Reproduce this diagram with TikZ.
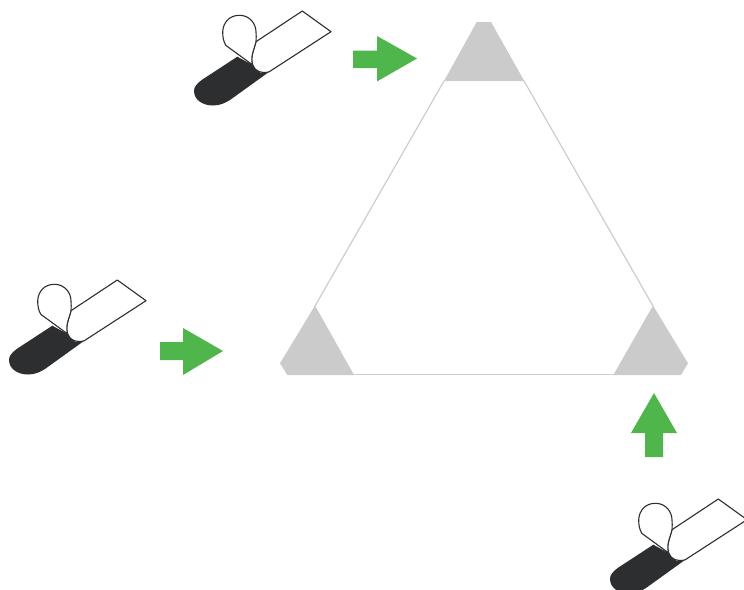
\documentclass[tikz,border=0pt]{standalone}
\usepackage{color}
\definecolor{capgray}{HTML}{CBCBCB}
\definecolor{edgegray}{HTML}{CDCDCD}
\definecolor{arrowgreen}{HTML}{4EB64B}
\definecolor{tapedark}{HTML}{2D2E30}
\tikzset{
    capfill/.style={fill=capgray},
    edgeline/.style={color=edgegray,line width=1.2pt},
    greenarrow/.style={fill=arrowgreen},
    tapeline/.style={color=tapedark,line width=1.1pt},
    pics/tape/.style={code={
        \fill[tapedark] (237.3,56.7) -- (201.7,80) .. controls (196.5,84) and (194,87) .. (194,91)
            .. controls (194,100) and (203,105.5) .. (213,105.5)
            .. controls (220,105.5) and (225,103) .. (230,100) -- (269.3,71.7) -- (260,72.7) -- (252.7,65) -- cycle;
        \draw[tapeline,fill=white] (256,41.7) -- (302.3,11) -- (331,31.7) -- (269.3,71.7)
            .. controls (262,74) and (255,71.5) .. (252.7,65)
            .. controls (250,57) and (254,50) .. (256,41.7) -- cycle;
        \draw[tapeline,fill=white] (252.7,65) -- (226,45.5) .. controls (223.5,42) and (222.7,37) .. (222.7,32)
            .. controls (223,22) and (230,15.3) .. (239.3,15.3)
            .. controls (250,15.3) and (256,24) .. (256,32)
            .. controls (256.3,35) and (256.3,38) .. (256,41.7)
            .. controls (254,50) and (250,57) .. (252.7,65);
    }}
}
\begin{document}
\begin{tikzpicture}[line cap=round,line join=round,x=1pt,y=-1pt]
    \useasboundingbox (0,0) rectangle (744,589);
    \clip (0,0) rectangle (744,589);
    % triangle
    \draw[edgeline] (444,81) -- (315,306);
    \draw[edgeline] (524,81) -- (653,306);
    \draw[edgeline] (353,374.6) -- (614,374.6);
    \fill[capfill] (476.7,22) -- (491,22) -- (524.3,81) -- (444,81) -- cycle;
    \fill[capfill] (315,305.5) -- (354,375) -- (287.3,375) -- (280,363.3) -- cycle;
    \fill[capfill] (653,305.5) -- (613.3,375) -- (681,375) -- (688,363.3) -- cycle;
    % tapes
    \foreach \tx/\ty in {0/0,-185/269,416/488}
    \pic at (\tx,\ty) {tape};
    % arrows
    \fill[greenarrow] (353,50.5) -- (377,50.5) -- (377,36) -- (417,58.5) -- (377,81.5) -- (377,68) -- (353,68) -- cycle;
    \fill[greenarrow] (160,342) -- (183,342) -- (183,328) -- (223,351) -- (183,375) -- (183,360) -- (160,360) -- cycle;
    \fill[greenarrow] (645,457) -- (645,433) -- (631,433) -- (654,393) -- (677,433) -- (663,433) -- (663,457) -- cycle;
\end{tikzpicture}
\end{document}
